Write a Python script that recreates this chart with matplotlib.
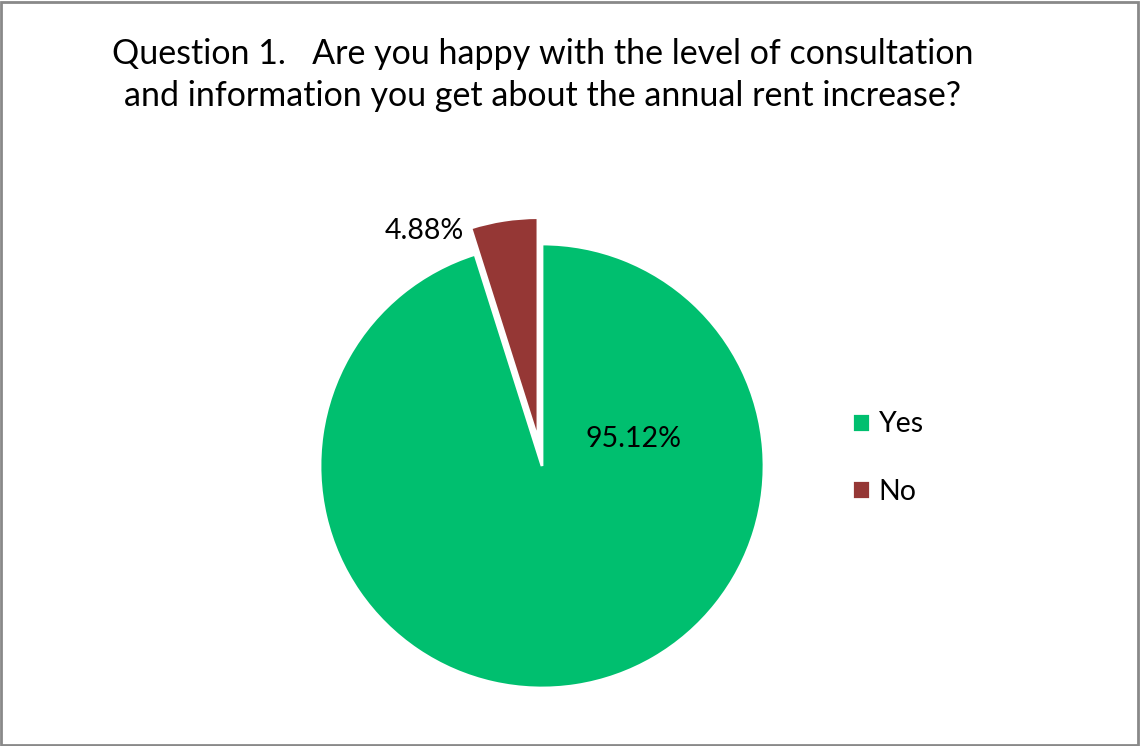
import matplotlib.pyplot as plt
from matplotlib.patches import Rectangle

# data
labels = ['Yes', 'No']
shares = [95.12, 4.88]
colors = ['#00BF6F', '#953735']
TITLE = 'Question 1.   Are you happy with the level of consultation\nand information you get about the annual rent increase?'

W, H = 1140, 746
R = 222  # pie radius in pixels
CX, CY = 542, 466  # pie centre (pixels, from top)

plt.rcParams['font.family'] = ['Lato', 'DejaVu Sans']

fig = plt.figure(figsize=(W / 100, H / 100), dpi=100)
fig.patches.append(Rectangle((0.001, 0.001), 0.997, 0.996, transform=fig.transFigure,
                             fill=False, edgecolor='#898989', linewidth=2))

half = 320
ax = fig.add_axes([(CX - half) / W, (H - CY - half) / H, 2 * half / W, 2 * half / H])

wedges, _ = ax.pie(shares, colors=colors, startangle=90, counterclock=False,
                   explode=[0, 0.12], radius=1,
                   wedgeprops=dict(edgecolor='white', linewidth=2))
ax.set_xlim(-half / R, half / R)
ax.set_ylim(-half / R, half / R)
ax.set_aspect('equal')
ax.axis('off')

# percentage labels placed like the original
ax.text(0.41, 0.12, '{:.2f}%'.format(shares[0]), ha='center', va='center', fontsize=20.5)
ax.text(-0.53, 1.06, '{:.2f}%'.format(shares[1]), ha='center', va='center', fontsize=20.5)

fig.legend(wedges, labels, loc='center left', bbox_to_anchor=(826 / W, 1 - 458 / H),
           frameon=False, fontsize=20.5, handlelength=0.65, handleheight=0.65,
           labelspacing=1.45, handletextpad=0.3)

fig.text(543 / W, 1 - 75 / H, TITLE, ha='center', va='center', fontsize=24.5, linespacing=1.38)

fig.savefig('out.png', dpi=100)
